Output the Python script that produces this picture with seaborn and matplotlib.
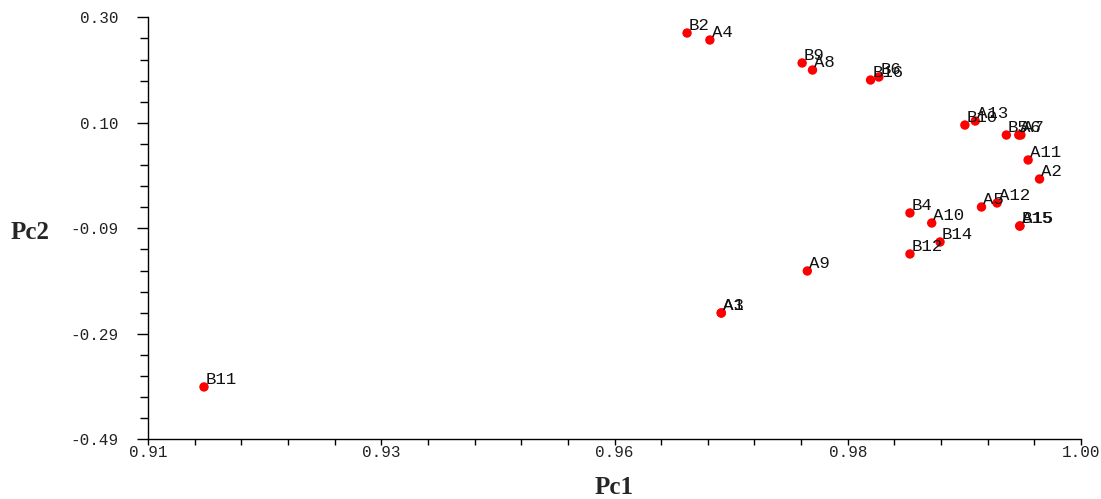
import matplotlib
matplotlib.use("Agg")
import matplotlib.pyplot as plt
from matplotlib.ticker import FixedLocator, AutoMinorLocator
import seaborn as sns
import pandas as pd

# ---- data ----
labels = ["B2", "A4", "B9", "A8", "B16", "B6", "B10", "A13", "B5", "A6", "A7",
          "A11", "A2", "A5", "A12", "B4", "A10", "B15", "A15", "B14", "B12",
          "A9", "A1", "A3", "B11"]
pc1 = [0.9620, 0.9642, 0.9731, 0.9741, 0.9797, 0.9805, 0.9888, 0.9898, 0.9928,
       0.9940, 0.9942, 0.9949, 0.9960, 0.9904, 0.9919, 0.9835, 0.9856, 0.9941,
       0.9941, 0.9864, 0.9835, 0.9736, 0.9653, 0.9653, 0.9154]
pc2 = [0.2706, 0.2575, 0.2145, 0.2013, 0.1826, 0.1882, 0.0983, 0.1058, 0.0796,
       0.0796, 0.0796, 0.0329, -0.0027, -0.0551, -0.0476, -0.0663, -0.0851,
       -0.0907, -0.0907, -0.1206, -0.1431, -0.1749, -0.2535, -0.2535, -0.3920]

x_ticks = [0.91, 0.9325, 0.955, 0.9775, 1.00]
x_tick_labels = ["0.91", "0.93", "0.96", "0.98", "1.00"]
y_ticks = [0.30, 0.1025, -0.095, -0.2925, -0.49]
y_tick_labels = ["0.30", "0.10", "-0.09", "-0.29", "-0.49"]

df = pd.DataFrame({"label": labels, "Pc1": pc1, "Pc2": pc2})

sns.set_theme(style="white")
plt.rcParams["font.family"] = ["Liberation Mono", "DejaVu Sans"]

fig = plt.figure(figsize=(11.01, 4.99), dpi=100)
ax = fig.add_axes([148 / 1101, 1 - 439.3 / 499, (1081 - 148) / 1101, (439.3 - 17.3) / 499])

sns.scatterplot(data=df, x="Pc1", y="Pc2", ax=ax, color="#ff0000",
                edgecolor="none", s=46, legend=False, zorder=3)

for lab, x, y in zip(labels, pc1, pc2):
    ax.annotate(lab, (x, y), xytext=(1.2, 2.0), textcoords="offset points",
                ha="left", va="baseline", fontsize=12.5, color="#111111",
                family=["Liberation Mono", "DejaVu Sans"], zorder=4)

ax.set_xlim(0.91, 1.00)
ax.set_ylim(-0.49, 0.30)

ax.xaxis.set_major_locator(FixedLocator(x_ticks))
ax.set_xticklabels(x_tick_labels)
ax.yaxis.set_major_locator(FixedLocator(y_ticks))
ax.set_yticklabels(y_tick_labels)
ax.xaxis.set_minor_locator(AutoMinorLocator(5))
ax.yaxis.set_minor_locator(AutoMinorLocator(5))

for side in ["top", "right"]:
    ax.spines[side].set_visible(False)
for side in ["left", "bottom"]:
    ax.spines[side].set_color("black")
    ax.spines[side].set_linewidth(1.0)

ax.tick_params(axis="y", which="major", direction="out", length=8, width=1,
               color="black", labelsize=11.5, pad=13, left=True)
ax.tick_params(axis="y", which="minor", direction="out", length=5.5, width=1,
               color="black", left=True)
ax.tick_params(axis="x", which="major", direction="out", length=4, width=1,
               color="black", labelsize=11.5, pad=0, bottom=True)
ax.tick_params(axis="x", which="minor", direction="out", length=4, width=1,
               color="black", bottom=True)
for t in ax.get_xticklabels() + ax.get_yticklabels():
    t.set_color("#222222")

ax.set_xlabel("Pc1", fontsize=18, fontweight="bold", family="Liberation Serif",
              va="center", ha="center")
ax.set_ylabel("Pc2", fontsize=18, fontweight="bold", family="Liberation Serif",
              rotation=0, ha="center", va="center")
ax.xaxis.set_label_coords(0.4995, -0.115)
ax.yaxis.set_label_coords(-0.1265, 0.491)
ax.grid(False)

fig.savefig("out.png", dpi=100)
